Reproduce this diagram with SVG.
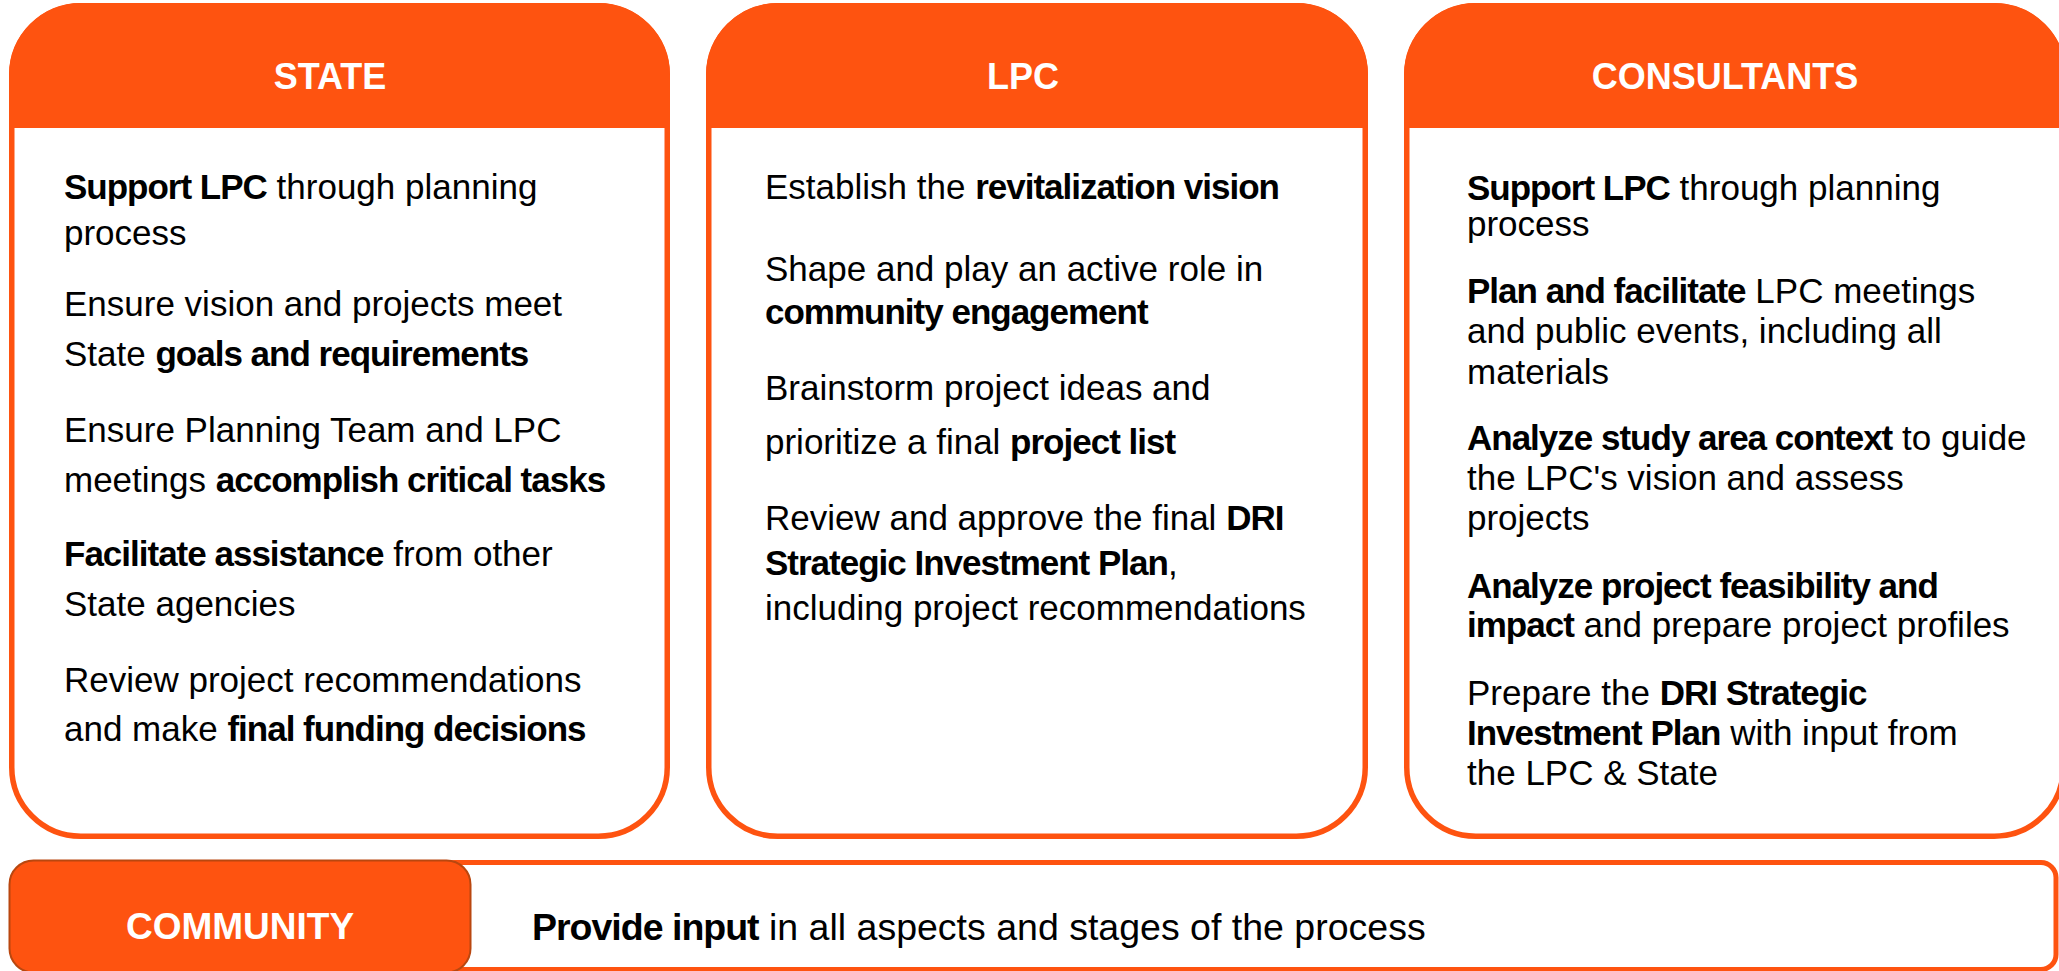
<svg xmlns="http://www.w3.org/2000/svg" width="2059" height="971" viewBox="0 0 2059 971">
<style>
.box{fill:#ffffff;stroke:#FE5310;stroke-width:5.5}
.hdr{fill:#FE5310}
.title{font-family:"Liberation Sans",Arial,sans-serif;font-weight:700;font-size:36px;fill:#ffffff;text-anchor:middle}
.body{font-family:"Liberation Sans",Arial,sans-serif;font-size:35px;fill:#000000}
.b{font-weight:700;letter-spacing:-1px}
</style>
<rect width="2059" height="971" fill="#ffffff"/>
<g id="state">
<rect class="box" x="11.75" y="5.75" width="655.5" height="830.5" rx="69"/>
<path class="hdr" d="M9,128 V75 A72,72 0 0 1 81,3 H598 A72,72 0 0 1 670,75 V128 Z"/>
<text class="title" x="330" y="89">STATE</text>
<text class="body" x="64" y="199"><tspan class="b">Support LPC</tspan> through planning</text>
<text class="body" x="64" y="245">process</text>
<text class="body" x="64" y="316">Ensure vision and projects meet</text>
<text class="body" x="64" y="366">State <tspan class="b">goals and requirements</tspan></text>
<text class="body" x="64" y="442">Ensure Planning Team and LPC</text>
<text class="body" x="64" y="492">meetings <tspan class="b">accomplish critical tasks</tspan></text>
<text class="body" x="64" y="566"><tspan class="b">Facilitate assistance</tspan> from other</text>
<text class="body" x="64" y="616">State agencies</text>
<text class="body" x="64" y="692">Review project recommendations</text>
<text class="body" x="64" y="741">and make <tspan class="b">final funding decisions</tspan></text>
</g>
<g id="lpc">
<rect class="box" x="708.75" y="5.75" width="656.5" height="830.5" rx="69"/>
<path class="hdr" d="M706,128 V75 A72,72 0 0 1 778,3 H1296 A72,72 0 0 1 1368,75 V128 Z"/>
<text class="title" x="1023" y="89">LPC</text>
<text class="body" x="765" y="199">Establish the <tspan class="b">revitalization vision</tspan></text>
<text class="body" x="765" y="281">Shape and play an active role in</text>
<text class="body" x="765" y="324"><tspan class="b">community engagement</tspan></text>
<text class="body" x="765" y="400">Brainstorm project ideas and</text>
<text class="body" x="765" y="454">prioritize a final <tspan class="b">project list</tspan></text>
<text class="body" x="765" y="530">Review and approve the final <tspan class="b">DRI</tspan></text>
<text class="body" x="765" y="575"><tspan class="b">Strategic Investment Plan</tspan>,</text>
<text class="body" x="765" y="620">including project recommendations</text>
</g>
<g id="consultants">
<rect class="box" x="1406.75" y="5.75" width="656.5" height="830.5" rx="69"/>
<path class="hdr" d="M1404,128 V75 A72,72 0 0 1 1476,3 H1994 A72,72 0 0 1 2066,75 V128 Z"/>
<text class="title" x="1725" y="89">CONSULTANTS</text>
<text class="body" x="1467" y="200"><tspan class="b">Support LPC</tspan> through planning</text>
<text class="body" x="1467" y="236">process</text>
<text class="body" x="1467" y="303"><tspan class="b">Plan and facilitate</tspan> LPC meetings</text>
<text class="body" x="1467" y="343">and public events, including all</text>
<text class="body" x="1467" y="384">materials</text>
<text class="body" x="1467" y="450"><tspan class="b">Analyze study area context</tspan> to guide</text>
<text class="body" x="1467" y="490">the LPC's vision and assess</text>
<text class="body" x="1467" y="530">projects</text>
<text class="body" x="1467" y="598"><tspan class="b">Analyze project feasibility and</tspan></text>
<text class="body" x="1467" y="637"><tspan class="b">impact</tspan> and prepare project profiles</text>
<text class="body" x="1467" y="705">Prepare the <tspan class="b">DRI Strategic</tspan></text>
<text class="body" x="1467" y="745"><tspan class="b">Investment Plan</tspan> with input from</text>
<text class="body" x="1467" y="785">the LPC &amp; State</text>
</g>
<g id="community">
<rect x="440" y="862.5" width="1616" height="107" rx="15" fill="#ffffff" stroke="#FE5310" stroke-width="5"/>
<rect x="9.5" y="860.5" width="461" height="112" rx="24" fill="#FE5310" stroke="#B9470F" stroke-width="2"/>
<text class="title" x="240" y="939" style="font-size:37px">COMMUNITY</text>
<text class="body" x="532" y="940" style="font-size:37.5px"><tspan class="b">Provide input</tspan> in all aspects and stages of the process</text>
</g>
<g id="connectors"></g>
</svg>
